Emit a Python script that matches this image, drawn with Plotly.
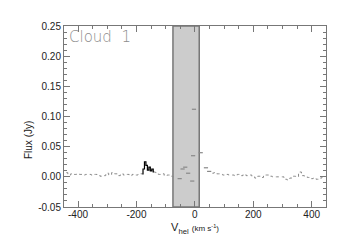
import plotly.graph_objects as go

# Spectrum (gray) left of the masked band
v_left = [-440, -430, -420, -410, -400, -390, -380, -370, -360, -350, -340, -330, -320,
          -310, -300, -290, -280, -270, -260, -250, -240, -230, -220, -210, -200, -190, -180]
f_left = [0.007, 0.003, 0.005, 0.004, 0.005, 0.004, 0.003, 0.004, 0.004, 0.003, 0.004, 0.003, 0.001,
          0.002, 0.006, 0.003, 0.007, 0.005, 0.002, 0.005, 0.003, 0.004, 0.002, 0.004, 0.003, 0.004, 0.005]

# Detected feature (black)
v_peak = [-180, -175, -170, -165, -160, -155, -150, -145, -140]
f_peak = [0.005, 0.013, 0.025, 0.019, 0.011, 0.016, 0.010, 0.013, 0.008]

# Gray continuation towards the band
v_mid = [-140, -130, -120, -110, -100, -90, -80, -70]
f_mid = [0.008, 0.007, 0.004, 0.005, 0.002, 0.003, 0.001, 0.000]

# Isolated channels in / near the masked band
v_band = [-52, -42, -33, -23, -9, -6, -3, 20, 38, 49]
f_band = [-0.003, 0.013, 0.016, 0.006, -0.007, 0.035, 0.112, 0.040, 0.015, 0.009]

# Spectrum right of the band
v_right = [60, 70, 80, 90, 100, 110, 120, 130, 140, 150, 160, 170, 180, 190, 200, 210, 220, 230,
           240, 250, 260, 270, 280, 290, 300, 310, 320, 330, 340, 350, 360, 370, 380, 390, 400,
           410, 420, 430, 440]
f_right = [0.006, 0.007, 0.005, 0.004, 0.003, 0.004, 0.003, 0.003, 0.002, 0.004, 0.002, 0.004,
           0.002, 0.003, 0.000, -0.002, 0.001, -0.001, 0.003, 0.003, 0.001, 0.000, 0.000, 0.000,
           0.000, -0.004, -0.005, -0.002, 0.001, 0.000, 0.008, 0.002, 0.000, -0.001, -0.003,
           -0.002, -0.004, -0.002, 0.002]

band_x = [-75, 15]

x_ticks = [-400, -200, 0, 200, 400]
x_ticktext = ["-400", "-200", "0", "200", "400"]
y_ticks = [-0.05, 0.0, 0.05, 0.10, 0.15, 0.20, 0.25]
y_ticktext = ["-0.05", "0.00", "0.05", "0.10", "0.15", "0.20", "0.25"]

gray = "#8a8a8a"
fig = go.Figure()
for vx, fy in [(v_left, f_left), (v_mid, f_mid), (v_right, f_right)]:
    fig.add_trace(go.Scatter(x=vx, y=fy, mode="lines",
                             line=dict(color=gray, width=1, dash="dot", shape="hvh")))
fig.add_trace(go.Scatter(x=v_peak, y=f_peak, mode="lines", line=dict(color="black", width=1.2, shape="hvh")))
fig.add_trace(go.Scatter(x=v_band, y=f_band, mode="markers",
                         marker=dict(symbol="line-ew", size=3, line=dict(color="#888", width=1.2))))

fig.add_shape(type="rect", xref="x", yref="paper", x0=band_x[0], x1=band_x[1], y0=0, y1=1,
              fillcolor="#cccccc", line=dict(color="#777", width=1.5), layer="below")

fig.add_annotation(text="Cloud \u00a01", xref="paper", yref="paper", x=0.01, y=1.0,
                   xanchor="left", yanchor="top", showarrow=False,
                   font=dict(family="DejaVu Sans", size=15, color="#8c8c8c", weight=200))

fig.add_annotation(text="Flux (Jy)", xref="paper", yref="paper", x=0, y=0.37,
                   xanchor="center", yanchor="middle", showarrow=False, textangle=-90,
                   xshift=-36, font=dict(family="Liberation Sans", size=10, color="#222"))

axis_common = dict(showgrid=False, zeroline=False, showline=True, linecolor="#777", linewidth=1,
                   mirror="allticks", ticks="inside", tickcolor="#777",
                   tickfont=dict(family="Liberation Sans", size=10, color="#222"))

fig.update_layout(
    width=338, height=240,
    margin=dict(l=56, r=20, t=15, b=41),
    paper_bgcolor="white", plot_bgcolor="white",
    showlegend=False,
    xaxis=dict(range=[-448, 449], tickvals=x_ticks, ticktext=x_ticktext, ticklen=6,
               ticklabelstandoff=-2,
               minor=dict(dtick=50, tick0=0, ticklen=3, ticks="inside", tickcolor="#777"),
               title=dict(text="V<sub>hel</sub> <span style='font-size:8px'>(km s<sup>-1</sup>)</span>",
                          font=dict(family="Liberation Sans", size=11, color="#222"), standoff=4),
               **axis_common),
    yaxis=dict(range=[-0.05, 0.25], tickvals=y_ticks, ticktext=y_ticktext, ticklen=6,
               minor=dict(dtick=0.01, tick0=0, ticklen=3, ticks="inside", tickcolor="#777"),
               **axis_common),
)

fig.write_html("out.html")
